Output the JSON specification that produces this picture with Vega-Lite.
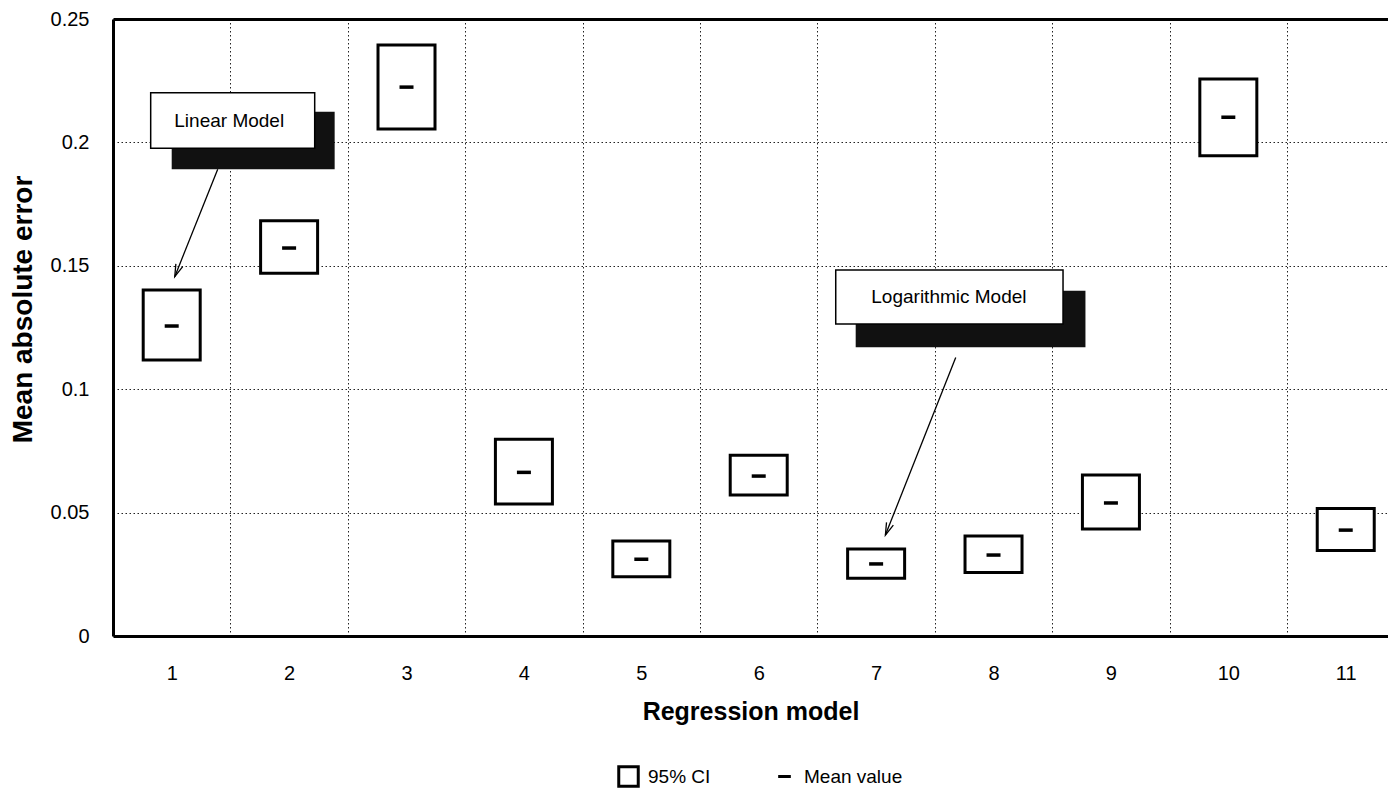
{
  "$schema": "https://vega.github.io/schema/vega-lite/v6.json",
  "autosize": "none",
  "width": 1275,
  "height": 617,
  "padding": {"left": 113, "top": 19, "right": 0, "bottom": 154},
  "background": "white",
  "config": {
    "view": {"stroke": null},
    "font": "Liberation Sans",
    "axis": {"labelColor": "black", "titleColor": "black", "labelFont": "Liberation Sans", "titleFont": "Liberation Sans"},
    "legend": {"labelFont": "Liberation Sans", "labelColor": "black", "labelFontSize": 19, "labelOffset": 8, "symbolOpacity": 1}
  },
  "datasets": {
    "ci": [
      {"model": 1, "lo": 0.1118, "hi": 0.1402, "mean": 0.1256},
      {"model": 2, "lo": 0.1470, "hi": 0.1683, "mean": 0.1572},
      {"model": 3, "lo": 0.2054, "hi": 0.2395, "mean": 0.2224},
      {"model": 4, "lo": 0.0535, "hi": 0.0797, "mean": 0.0663},
      {"model": 5, "lo": 0.0240, "hi": 0.0385, "mean": 0.0311},
      {"model": 6, "lo": 0.0571, "hi": 0.0732, "mean": 0.0648},
      {"model": 7, "lo": 0.0234, "hi": 0.0353, "mean": 0.0292},
      {"model": 8, "lo": 0.0257, "hi": 0.0405, "mean": 0.0328},
      {"model": 9, "lo": 0.0434, "hi": 0.0652, "mean": 0.0539},
      {"model": 10, "lo": 0.1946, "hi": 0.2257, "mean": 0.2102},
      {"model": 11, "lo": 0.0346, "hi": 0.0517, "mean": 0.0429}
    ],
    "callouts": [
      {"label": "Linear Model", "bx1": 0.821, "bx2": 2.218, "by1": 0.1976, "by2": 0.2201, "sx1": 1.0, "sx2": 2.388, "sy1": 0.1891, "sy2": 0.2124, "tx": 1.49, "ty": 0.2086, "ax1": 1.392, "ay1": 0.1891, "ax2": 1.026, "ay2": 0.1456},
      {"label": "Logarithmic Model", "bx1": 6.656, "bx2": 8.592, "by1": 0.1264, "by2": 0.1483, "sx1": 6.826, "sx2": 8.783, "sy1": 0.117, "sy2": 0.1399, "tx": 7.62, "ty": 0.1372, "ax1": 7.678, "ay1": 0.1128, "ax2": 7.079, "ay2": 0.0409}
    ]
  },
  "resolve": {"axis": {"x": "independent"}, "legend": {"stroke": "independent", "fill": "independent"}},
  "layer": [
    {
      "data": {"name": "ci"},
      "mark": {"type": "bar", "orient": "vertical", "size": 57, "fill": "white", "strokeWidth": 3},
      "encoding": {
        "x": {
          "field": "model", "type": "quantitative",
          "scale": {"domain": [0.5, 11.36], "nice": false, "zero": false, "padding": 0},
          "axis": {
            "orient": "bottom", "values": [1,2,3,4,5,6,7,8,9,10,11], "grid": false, "ticks": false,
            "domainColor": "black", "domainWidth": 3, "labelFontSize": 20, "labelPadding": 27,
            "title": "Regression model", "titleFontSize": 25, "titleFontWeight": "bold", "titlePadding": 16
          }
        },
        "y": {
          "field": "lo", "type": "quantitative",
          "scale": {"domain": [0, 0.25], "nice": false, "padding": 0},
          "axis": {
            "values": [0, 0.05, 0.1, 0.15, 0.2, 0.25], "format": ".2~f", "ticks": false,
            "grid": true, "gridColor": "#222", "gridDash": [1.5, 2.5], "gridWidth": 1,
            "domainColor": "black", "domainWidth": 3, "labelFontSize": 20, "labelPadding": 24,
            "title": "Mean absolute error", "titleFontSize": 28, "titleFontWeight": "bold", "titlePadding": 13, "titleY": 290
          }
        },
        "y2": {"field": "hi"},
        "stroke": {
          "datum": "95% CI", "type": "nominal",
          "scale": {"domain": ["95% CI"], "range": ["black"]},
          "legend": {
            "title": null, "orient": "none", "direction": "horizontal", "legendX": 504, "legendY": 746,
            "symbolType": "square", "symbolSize": 380, "symbolFillColor": "white", "symbolStrokeColor": "black", "symbolStrokeWidth": 3
          }
        }
      }
    },
    {
      "data": {"name": "ci"},
      "mark": {"type": "tick", "orient": "horizontal", "size": 14, "thickness": 3.5, "opacity": 1, "strokeWidth": 0},
      "encoding": {
        "x": {
          "field": "model", "type": "quantitative",
          "axis": {
            "orient": "top", "values": [1.5,2.5,3.5,4.5,5.5,6.5,7.5,8.5,9.5,10.5], "labels": false, "ticks": false,
            "grid": true, "gridColor": "#222", "gridDash": [1.5, 2.5], "gridWidth": 1,
            "domainColor": "black", "domainWidth": 3, "title": null
          }
        },
        "y": {"field": "mean", "type": "quantitative"},
        "fill": {
          "datum": "Mean value", "type": "nominal",
          "scale": {"domain": ["Mean value"], "range": ["black"]},
          "legend": {
            "title": null, "orient": "none", "direction": "horizontal", "legendX": 660, "legendY": 746,
            "symbolType": "M-0.65,0H0.65", "symbolSize": 380, "symbolStrokeColor": "black", "symbolStrokeWidth": 3, "symbolFillColor": "black"
          }
        }
      }
    },
    {
      "data": {"name": "callouts"},
      "mark": {"type": "rect", "fill": "#111"},
      "encoding": {
        "x": {"field": "sx1", "type": "quantitative", "axis": null},
        "x2": {"field": "sx2"},
        "y": {"field": "sy1", "type": "quantitative"},
        "y2": {"field": "sy2"}
      }
    },
    {
      "data": {"name": "callouts"},
      "mark": {"type": "rect", "fill": "white", "stroke": "black", "strokeWidth": 1.5},
      "encoding": {
        "x": {"field": "bx1", "type": "quantitative", "axis": null},
        "x2": {"field": "bx2"},
        "y": {"field": "by1", "type": "quantitative"},
        "y2": {"field": "by2"}
      }
    },
    {
      "data": {"name": "callouts"},
      "mark": {"type": "text", "fontSize": 19, "font": "Liberation Sans", "color": "black", "align": "center", "baseline": "middle"},
      "encoding": {
        "x": {"field": "tx", "type": "quantitative", "axis": null},
        "y": {"field": "ty", "type": "quantitative"},
        "text": {"field": "label"}
      }
    },
    {
      "data": {"name": "callouts"},
      "mark": {"type": "rule", "color": "black", "strokeWidth": 1.3},
      "encoding": {
        "x": {"field": "ax1", "type": "quantitative", "axis": null},
        "y": {"field": "ay1", "type": "quantitative"},
        "x2": {"field": "ax2"},
        "y2": {"field": "ay2"}
      }
    },
    {
      "data": {"name": "callouts"},
      "mark": {"type": "point", "shape": "M-0.3,-1L0,0L0.3,-1", "size": 600, "angle": 21.7, "filled": false, "stroke": "black", "strokeWidth": 1.3, "opacity": 1},
      "encoding": {
        "x": {"field": "ax2", "type": "quantitative", "axis": null},
        "y": {"field": "ay2", "type": "quantitative"}
      }
    }
  ]
}
